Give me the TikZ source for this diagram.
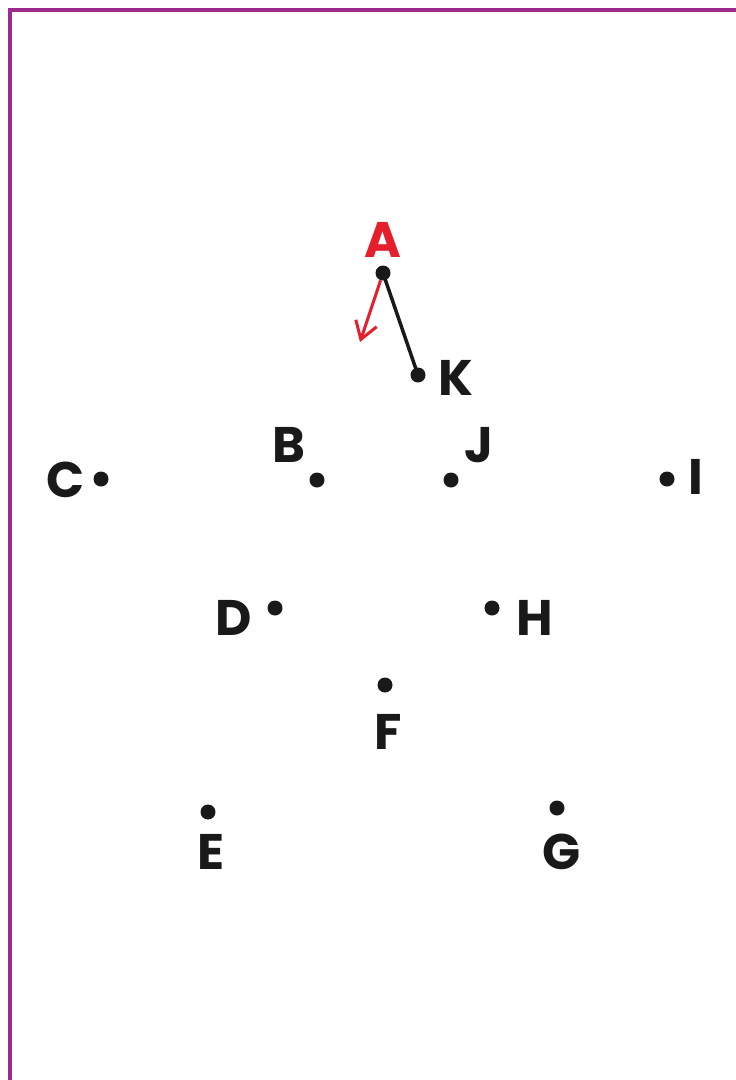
\documentclass[tikz,border=0pt]{standalone}
\usepackage{fontspec}
\setmainfont{Poppins}
\usetikzlibrary{arrows.meta}
\definecolor{framepurple}{HTML}{9E2A8E}
\definecolor{startred}{HTML}{E41E2B}
\tikzset{
	dot/.style={circle, fill=black!90, inner sep=0pt, minimum size=15pt},
	lbl/.style={inner sep=0pt, text=black!90, font=\fontsize{50}{50}\selectfont\bfseries},
	startlbl/.style={lbl, text=startred},
	joinline/.style={line width=3.5pt, color=black!90},
	hintarrow/.style={line width=3pt, color=startred, -{Straight Barb[length=17pt, width=22pt]}}
}

\begin{document}
\begin{tikzpicture}[x=1pt, y=-1pt]
			%%%%% START %%%%%
			\useasboundingbox (0, 0) rectangle (736, 1080);
			
			\draw[line width=4pt, color=framepurple] (10, 1090) -- (10, 10) -- (746, 10);
			
			\node[dot] (A) at (383, 273) {};
			\node[dot] (K) at (418, 375) {};
			\node[dot] (B) at (317, 480) {};
			\node[dot] (J) at (451, 480) {};
			\node[dot] (C) at (101, 479) {};
			\node[dot] (I) at (667, 479) {};
			\node[dot] (D) at (275, 608) {};
			\node[dot] (H) at (492, 608) {};
			\node[dot] (F) at (385, 685) {};
			\node[dot] (E) at (208, 812) {};
			\node[dot] (G) at (557, 808) {};
			
			\node[startlbl] (labA) at (383, 240) {A};
			\node[lbl] (labK) at (456, 378) {K};
			\node[lbl] (labB) at (289, 445) {B};
			\node[lbl] (labJ) at (479, 445) {J};
			\node[lbl] (labC) at (66, 480) {C};
			\node[lbl] (labI) at (696, 477) {I};
			\node[lbl] (labD) at (234, 618) {D};
			\node[lbl] (labH) at (535, 618) {H};
			\node[lbl] (labF) at (388, 732) {F};
			\node[lbl] (labE) at (211, 852) {E};
			\node[lbl] (labG) at (562, 852) {G};
			
			% first stroke, and the hint which way to go
			\draw[joinline] (A.center) -- (K.center);
			\coordinate (hintA) at (360, 342);
			\draw[hintarrow] (A) -- (hintA);
			
			%%%%% END %%%%%
\end{tikzpicture}
\end{document}
